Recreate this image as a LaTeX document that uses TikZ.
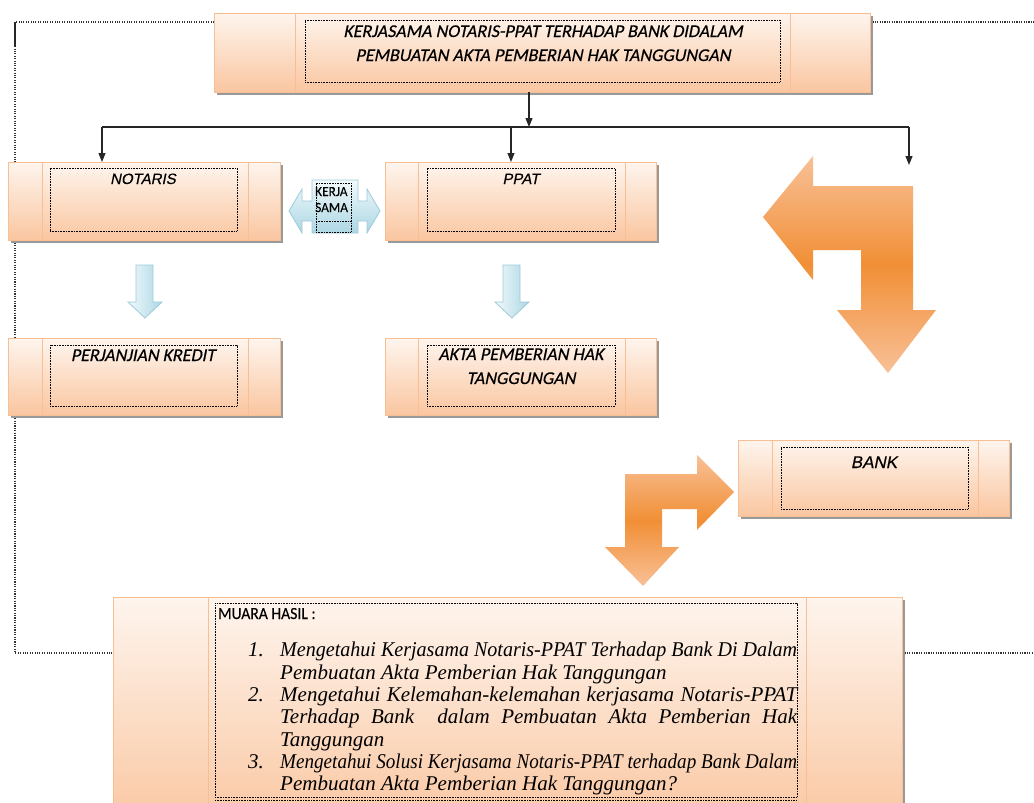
\documentclass[tikz,border=0pt]{standalone}
\usepackage{fontspec}
\usepackage{graphicx}
\setmainfont{Liberation Serif}
\newfontfamily\calib{Carlito}[FakeBold=0.2]
\newfontfamily\calibit{Carlito}[FakeSlant=0.2,FakeBold=0.3]
\newfontfamily\arialf{Liberation Sans}[FakeSlant=0.2,FakeBold=0.4]
\usetikzlibrary{calc,arrows.meta}
\definecolor{peachtop}{HTML}{FEF5EE}
\definecolor{peachbot}{HTML}{FAC6A0}
\definecolor{peachline}{HTML}{F8BF94}
\definecolor{orlight}{HTML}{F8C097}
\definecolor{ordark}{HTML}{F18F36}
\definecolor{bllight}{HTML}{F2F9FB}
\definecolor{bldark}{HTML}{ACD7E4}
\definecolor{blline}{HTML}{9CCBDA}
\newsavebox\fitbox
\newlength\listw
\setlength\listw{517pt}
\newcommand\fitline[1]{\sbox\fitbox{#1}\ifdim\wd\fitbox>\listw\pgfmathsetmacro\fitr{\listw/\wd\fitbox}\scalebox{\fitr}[1]{\usebox\fitbox}\else\makebox[\listw][s]{#1}\fi}
\tikzset{
  boxbase/.style={rectangle, draw=peachline, line width=0.9pt, top color=peachtop, bottom color=peachbot, inner sep=0pt, outer sep=0pt},
  shadowfill/.style={fill=black!40},
  divline/.style={draw=peachline, line width=0.9pt},
  dotframe/.style={draw=black, line width=0.8pt, dash pattern=on 0.8pt off 0.8pt},
  framedot/.style={draw=black!80, line width=1.1pt, dash pattern=on 1.1pt off 1.3pt},
  conn/.style={draw=black!85, line width=1.1pt},
  tip/.style={-{Triangle[length=9pt,width=7pt]}},
  titletext/.style={font=\calibit\fontsize{18}{22}\selectfont, inner sep=0pt, text=black},
  ariatext/.style={font=\arialf\fontsize{15}{18}\selectfont, inner sep=0pt, text=black},
  listtext/.style={font=\itshape\fontsize{21}{23}\selectfont, inner sep=0pt, text=black},
  orangearrow/.style={top color=orlight, bottom color=orlight, middle color=ordark},
  bluearrow/.style={draw=blline, line width=0.8pt, left color=bllight, right color=bldark}
}
\newcommand\obox[7]{%
  \fill[shadowfill] (#2+2.5,#3+3) rectangle (#4+2.5,#5+3);
  \node[boxbase, minimum width=#4-#2, minimum height=#5-#3] (#1) at ({(#2+#4)/2},{(#3+#5)/2}) {};
  \draw[divline] (#6,#3) -- (#6,#5) (#7,#3) -- (#7,#5);
}
\newcommand\iframe[5]{%
  \node[dotframe, rectangle, inner sep=0pt, outer sep=0pt, minimum width=#4-#2, minimum height=#5-#3] (#1) at ({(#2+#4)/2},{(#3+#5)/2}) {};
}
\begin{document}
\begin{tikzpicture}[x=1pt,y=-1pt]
\clip (0,0) rectangle (1034,803);
\fill[white] (0,0) rectangle (1034,803);

% outer dotted frame
\coordinate (fr) at (15,22);
\coordinate (fl) at (15,653);
\coordinate (frr) at (1034,22);
\coordinate (flr) at (1034,653);
\draw[framedot] (214,22) -- (fr) -- (fl) -- (113,653);
\draw[framedot] (870,22) -- (frr);
\draw[framedot] (902,653) -- (flr);
\draw[line width=1.5pt, black!85] (15,23) -- (15,47);

% boxes
\obox{T}{214}{13}{870}{92}{295}{790}
\iframe{Ti}{305}{20}{780}{82}
\obox{N}{8}{162}{280}{240}{42}{248}
\iframe{Ni}{50}{168}{237}{231}
\obox{P}{385}{162}{656}{240}{418}{625}
\iframe{Pi}{427}{168}{615}{231}
\obox{K}{8}{338}{280}{415}{42}{248}
\iframe{Ki}{50}{345}{237}{406}
\obox{A}{385}{338}{656}{415}{418}{625}
\iframe{Ai}{427}{345}{615}{406}
\obox{B}{738}{440}{1009}{516}{772}{978}
\iframe{Bi}{781}{447}{968}{509}
\obox{M}{113}{597}{902}{830}{208}{806}
\iframe{Mi}{215}{603}{797}{797}
\draw[dotframe] (215,800) -- (797,800);

% connectors
\coordinate (hl) at (102,127);
\coordinate (hr) at (909,127);
\coordinate (jn) at (529,127);
\coordinate (jp) at (511,127);
\coordinate (hend) at (909,165);
\draw[conn, tip] (jn |- T.south) -- (jn);
\draw[conn] (hl) -- (hr);
\draw[conn, tip] (hl) -- (hl |- N.north);
\draw[conn, tip] (jp) -- (jp |- P.north);
\draw[conn, tip] (hr) -- (hend);

% light blue arrows
\path[bluearrow] (136,265) -- (153,265) -- (153,302) -- (162,302) -- (145,318) -- (128,302) -- (136,302) -- cycle;
\path[bluearrow] (503,265) -- (520,265) -- (520,302) -- (529,302) -- (512,318) -- (495,302) -- (503,302) -- cycle;
\path[draw=blline, line width=0.8pt, top color=bllight, bottom color=bldark]
  (289,211) -- (302,189) -- (302,201) -- (312,201) -- (312,180) -- (358,180) -- (358,201) -- (367,201) -- (367,189)
  -- (380,211) -- (367,233) -- (367,221) -- (358,221) -- (358,233) -- (312,233) -- (312,221) -- (302,221) -- (302,233) -- cycle;
\iframe{KSi}{316}{183}{351}{232}
\draw[dotframe] (316,221) -- (351,221);
\node[font=\calib\fontsize{14}{16}\selectfont, inner sep=0pt, anchor=base west] (ks1) at (315,196) {\scalebox{0.95}[1]{KERJA}};
\node[font=\calib\fontsize{14}{16}\selectfont, inner sep=0pt, anchor=base west] (ks2) at (315,212) {\scalebox{0.95}[1]{SAMA}};

% orange arrows
\path[orangearrow] (763,217) -- (813,156) -- (813,186) -- (913,186) -- (913,310) -- (936,310) -- (888,373)
  -- (837,310) -- (861,310) -- (861,250) -- (813,250) -- (813,280) -- cycle;
\path[orangearrow] (734,492) -- (697,455) -- (697,474) -- (625,474) -- (625,547) -- (605,547) -- (643,586)
  -- (679,547) -- (662,547) -- (662,509) -- (697,509) -- (697,530) -- cycle;

% texts
\node[titletext, anchor=base] (t1) at (543,37) {KERJASAMA NOTARIS-PPAT TERHADAP BANK DIDALAM};
\node[titletext, anchor=base] (t2) at (543,61) {PEMBUATAN AKTA PEMBERIAN HAK TANGGUNGAN};
\node[ariatext, anchor=base] (tn) at (143,184) {NOTARIS};
\node[ariatext, anchor=base] (tp) at (521,184) {PPAT};
\node[titletext, anchor=base] (tk) at (143,361) {PERJANJIAN KREDIT};
\node[titletext, anchor=base] (ta1) at (521,360) {AKTA PEMBERIAN HAK};
\node[titletext, anchor=base] (ta2) at (521,384) {TANGGUNGAN};
\node[ariatext, font=\arialf\fontsize{17}{20}\selectfont, anchor=base] (tb) at (874,468) {BANK};
\node[font=\calib\fontsize{17}{20}\selectfont, inner sep=0pt, anchor=base west, text=black] (mh) at (218,619) {\scalebox{0.92}[1]{MUARA HASIL :}};

\node[listtext, anchor=base west] (n1) at (248,656) {1.};
\node[listtext, anchor=base west] (l1) at (280,656) {\fitline{Mengetahui Kerjasama Notaris-PPAT Terhadap Bank Di Dalam}};
\node[listtext, anchor=base west] (l2) at (280,679) {Pembuatan Akta Pemberian Hak Tanggungan};
\node[listtext, anchor=base west] (n2) at (248,701) {2.};
\node[listtext, anchor=base west] (l3) at (280,701) {\fitline{Mengetahui Kelemahan-kelemahan kerjasama Notaris-PPAT}};
\node[listtext, anchor=base west] (l4) at (280,723) {\fitline{Terhadap Bank \ dalam Pembuatan Akta Pemberian Hak}};
\node[listtext, anchor=base west] (l5) at (280,746) {Tanggungan};
\node[listtext, anchor=base west] (n3) at (248,768) {3.};
\node[listtext, anchor=base west] (l6) at (280,768) {\fitline{Mengetahui Solusi Kerjasama Notaris-PPAT terhadap Bank Dalam}};
\node[listtext, anchor=base west] (l7) at (280,790) {Pembuatan Akta Pemberian Hak Tanggungan?};
\end{tikzpicture}
\end{document}
